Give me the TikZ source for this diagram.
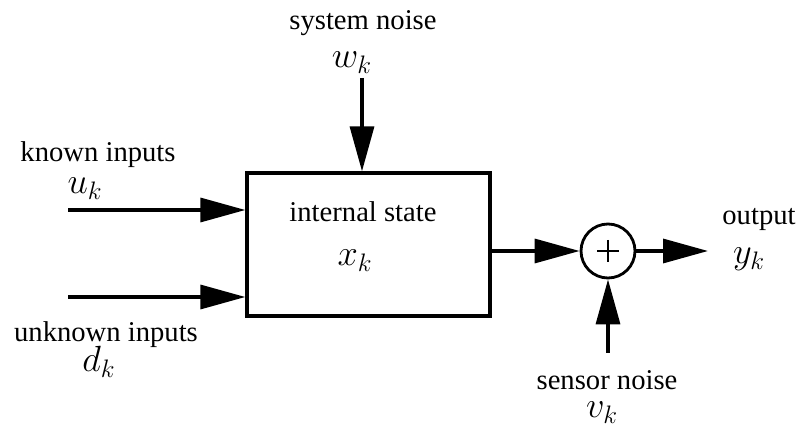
\documentclass[tikz,border=0pt]{standalone}
\usepackage{amsmath}
\usepackage{fontspec}
\setmainfont{Liberation Serif}
\usetikzlibrary{positioning}
\usetikzlibrary{arrows.meta}
\usetikzlibrary{calc}
\tikzset{sig/.style={line width=1.9pt,-{Triangle[length=0.9cm,width=0.48cm]}}}
\tikzset{blk/.style={draw,line width=1.9pt,minimum width=4.86cm,minimum height=2.86cm,inner sep=0pt}}
\tikzset{summ/.style={draw,circle,line width=1.6pt,minimum size=1.08cm,inner sep=0pt}}
\tikzset{lbl/.style={inner sep=0pt,anchor=base,font=\fontsize{16.3}{19}\selectfont}}
\tikzset{sym/.style={inner sep=0pt,anchor=base,font=\fontsize{20.5}{24}\selectfont}}

\begin{document}
\begin{tikzpicture}[x=0.02cm,y=-0.02cm]
\useasboundingbox (0,0) rectangle (797,428);

%%% Plant and summing point:

\node[blk] (state) at (368.5,244.5) {};
\node[lbl] (stateText) at (363,222) {internal state};
\node[sym] (x) at (355,266) {$x_k$};

\node[summ] (sum) at (608,251) {};
\draw[line width=1.1pt] ($(sum.center)+(-11,0)$) -- ($(sum.center)+(11,0)$);
\draw[line width=1.1pt] ($(sum.center)+(0,-11)$) -- ($(sum.center)+(0,11)$);

%%% Inputs:

\node[lbl] (uText) at (98,162) {known inputs};
\node[sym] (u) at (85,194) {$u_k$};
\coordinate (uIn) at (68,210);
\draw[sig] (uIn) -- (uIn -| state.west);

\node[lbl] (dText) at (106,342) {unknown inputs};
\node[sym] (d) at (99,372) {$d_k$};
\coordinate (dIn) at (68,297);
\draw[sig] (dIn) -- (dIn -| state.west);

\node[lbl] (wText) at (363,30) {system noise};
\node[sym] (w) at (352,68) {$w_k$};
\coordinate (wIn) at (362,78);
\draw[sig] (wIn) -- (wIn |- state.north);

%%% Output side:

\draw[sig] (state.east |- sum) -- (sum.west);

\coordinate (yOut) at (708,251);
\draw[sig] (sum.east) -- (yOut);
\node[lbl] (yText) at (759,225) {output};
\node[sym] (y) at (749,264) {$y_k$};

\coordinate (vIn) at (608,353);
\draw[sig] (vIn) -- (sum.south);
\node[lbl] (vText) at (607,390) {sensor noise};
\node[sym] (v) at (602,418) {$v_k$};

\end{tikzpicture}
\end{document}
